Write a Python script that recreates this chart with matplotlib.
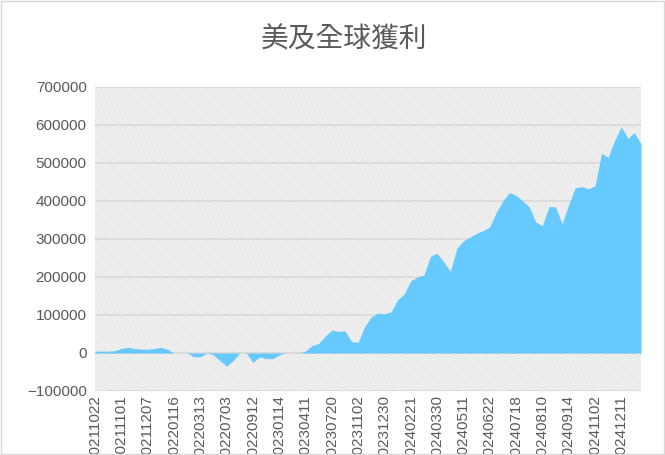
import matplotlib
matplotlib.use("Agg")
import matplotlib.pyplot as plt
import numpy as np

plt.rcParams['font.family'] = ['Liberation Sans', 'DejaVu Sans']
plt.rcParams['hatch.color'] = '#cfcfcf'
plt.rcParams['hatch.linewidth'] = 0.5

tick_labels = ["20211022", "20211101", "20211207", "20220116", "20220313", "20220703",
               "20220912", "20230114", "20230411", "20230720", "20231102", "20231230",
               "20240221", "20240330", "20240511", "20240622", "20240718", "20240810",
               "20240914", "20241102", "20241211"]
values = [5000, 5000, 5000, 6000, 12000, 15000, 12000, 10000,
          10000, 12000, 15000, 10000, 0, 0, 0, -10000,
          -10000, 0, -5000, -20000, -35000, -20000, 0, 0,
          -25000, -10000, -15000, -15000, -5000, 0, 0, 0,
          5000, 20000, 25000, 45000, 60000, 57000, 58000, 30000,
          28000, 70000, 95000, 105000, 103000, 108000, 140000, 155000,
          190000, 200000, 205000, 255000, 262000, 240000, 215000, 275000,
          295000, 305000, 315000, 322000, 332000, 370000, 400000, 422000,
          415000, 400000, 385000, 345000, 335000, 385000, 385000, 340000,
          390000, 435000, 438000, 432000, 440000, 525000, 515000, 560000,
          595000, 565000, 580000, 550000]

x = np.arange(len(values))
fig = plt.figure(figsize=(6.65, 4.55), dpi=100)
ax = fig.add_axes([95/665, 1-391/455, (641-95)/665, (391-87)/455])
ax.patch.set_facecolor('white')
ax.patch.set_hatch('\\' * 12)
ax.patch.set_edgecolor('#cfcfcf')
ax.fill_between(x, values, 0, color='#66C9FF', linewidth=0, zorder=2)
ax.set_xlim(0, len(values) - 1)
ax.set_ylim(-100000, 700000)
ax.set_yticks(np.arange(-100000, 700001, 100000))
ax.grid(axis='y', color='#d9d9d9', linewidth=1.2, zorder=1)
ax.set_axisbelow(True)
ax.set_xticks(x[::4][:len(tick_labels)])
ax.set_xticklabels(tick_labels, rotation=90)
ax.tick_params(axis='both', colors='#595959', labelsize=11, length=0)
ax.tick_params(axis='y', pad=6)
ax.tick_params(axis='x', pad=3)
ax.axhline(0, color='#d9d9d9', linewidth=1.2, zorder=1)
for s in ax.spines.values():
    s.set_visible(False)
fig.text(0.5 + 12/665, 1-40/455, "美及全球獲利", ha='center', va='center', fontsize=20,
         color='#595959', family=['Noto Sans CJK TC', 'DejaVu Sans'])
fig.patches.append(plt.Rectangle((0.002, 0.002), 0.996, 0.996, transform=fig.transFigure,
                                 fill=False, edgecolor='#d9d9d9', linewidth=1))
fig.savefig("out.png", dpi=100)
